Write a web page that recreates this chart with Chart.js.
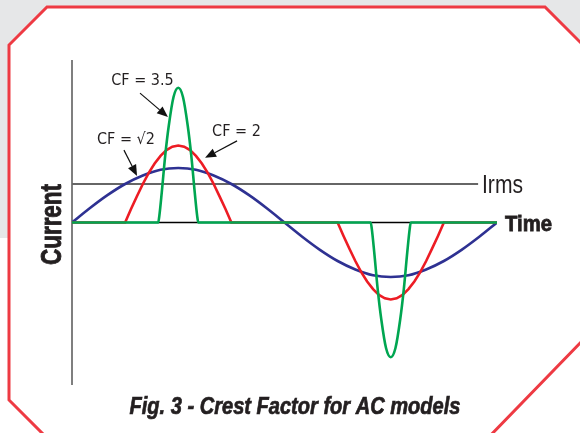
<!DOCTYPE html>
<html>
<head>
<meta charset="utf-8">
<script src="https://cdn.jsdelivr.net/npm/chart.js@4.4.0/dist/chart.umd.min.js"></script>
<style>
  body { margin: 0; background: #fff; }
  canvas { display: block; }
</style>
</head>
<body>
<canvas id="myChart" width="580" height="433"></canvas>
<script>
"use strict"

// time axis in degrees of one mains cycle, current in units of Irms
const sineX = [0, 15, 30, 45, 60, 75, 90, 105, 120, 135, 150, 165, 180, 195, 210, 225, 240, 255, 270, 285, 300, 315, 330, 345, 360];
const sineY = [0, 0.37, 0.71, 1.0, 1.22, 1.37, 1.415, 1.37, 1.22, 1.0, 0.71, 0.37, 0, -0.37, -0.71, -1.0, -1.22, -1.37, -1.415, -1.37, -1.22, -1.0, -0.71, -0.37, 0];

const redX = [0, 45, 50, 55, 60, 65, 70, 75, 80, 85, 90, 95, 100, 105, 110, 115, 120, 125, 130, 135,
    225, 230, 235, 240, 245, 250, 255, 260, 265, 270, 275, 280, 285, 290, 295, 300, 305, 310, 315, 360];
const redY = [0, 0, 0.35, 0.68, 1.0, 1.29, 1.53, 1.73, 1.88, 1.97, 2.0, 1.97, 1.88, 1.73, 1.53, 1.29, 1.0, 0.68, 0.35, 0,
    0, -0.35, -0.68, -1.0, -1.29, -1.53, -1.73, -1.88, -1.97, -2.0, -1.97, -1.88, -1.73, -1.53, -1.29, -1.0, -0.68, -0.35, 0, 0];

const greenX = [0, 73, 74, 76, 79, 82, 86, 90, 94, 98, 101, 104, 106, 107,
    253, 254, 256, 259, 262, 266, 270, 274, 278, 281, 284, 286, 287, 360];
const greenY = [0, 0, 0.18, 0.77, 1.75, 2.52, 3.26, 3.5, 3.26, 2.52, 1.75, 0.77, 0.18, 0,
    0, -0.18, -0.77, -1.75, -2.52, -3.26, -3.5, -3.26, -2.52, -1.75, -0.77, -0.18, 0, 0];

const irmsX = [0, 344];
const irmsY = [1, 1];

const xMax = 360;
const yLimit = 4.22;

function toPoints(xs, ys) {
    return xs.map((x, i) => ({ x: x, y: ys[i] }));
}

const narrow = '"Liberation Sans Narrow", "DejaVu Sans Condensed", "Liberation Sans", sans-serif';
const sans = '"Liberation Sans", Arial, sans-serif';

// squeeze text into a given width, the original uses a condensed face
function fitText(ctx, text, x, y, width, align, heavy) {
    const w = ctx.measureText(text).width;
    const sx = width / w;
    ctx.save();
    ctx.translate(x, y);
    ctx.scale(sx, 1);
    ctx.textAlign = "left";
    let start = 0;
    if (align === "center") start = -w / 2;
    ctx.fillText(text, start, 0);
    if (heavy) {
        ctx.lineWidth = heavy;
        ctx.strokeStyle = ctx.fillStyle;
        ctx.strokeText(text, start, 0);
    }
    ctx.restore();
}

function drawArrow(ctx, x1, y1, x2, y2) {
    const ang = Math.atan2(y2 - y1, x2 - x1);
    const len = 11, half = 4.5;
    const bx = x2 - len * Math.cos(ang), by = y2 - len * Math.sin(ang);
    ctx.beginPath();
    ctx.moveTo(x1, y1);
    ctx.lineTo(bx, by);
    ctx.lineWidth = 1.2;
    ctx.strokeStyle = "#111";
    ctx.stroke();
    ctx.beginPath();
    ctx.moveTo(x2, y2);
    ctx.lineTo(bx + half * Math.sin(ang), by - half * Math.cos(ang));
    ctx.lineTo(bx - half * Math.sin(ang), by + half * Math.cos(ang));
    ctx.closePath();
    ctx.fillStyle = "#111";
    ctx.fill();
}

const panelPlugin = {
    id: "panel",
    beforeDraw(chart) {
        const ctx = chart.ctx;
        ctx.save();
        ctx.fillStyle = "#fff";
        ctx.fillRect(0, 0, 580, 433);
        ctx.fillStyle = "#e6e7e8";
        ctx.fillRect(0, 0, 580, 238);
        ctx.beginPath();
        ctx.moveTo(47, 7);
        ctx.lineTo(545, 7);
        ctx.lineTo(586, 48);
        ctx.lineTo(586, 337);
        ctx.lineTo(486, 440);
        ctx.lineTo(49, 440);
        ctx.lineTo(9, 400);
        ctx.lineTo(9, 45);
        ctx.closePath();
        ctx.fillStyle = "#fff";
        ctx.fill();
        ctx.lineWidth = 3;
        ctx.strokeStyle = "#ee3a43";
        ctx.stroke();
        ctx.restore();
    },
    beforeDatasetsDraw(chart) {
        const ctx = chart.ctx;
        const a = chart.chartArea;
        const y0 = chart.scales.y.getPixelForValue(0);
        ctx.save();
        ctx.lineWidth = 1.5;
        ctx.strokeStyle = "#555";
        ctx.beginPath();
        ctx.moveTo(a.left, a.top);
        ctx.lineTo(a.left, a.bottom);
        ctx.stroke();
        ctx.strokeStyle = "#000";
        ctx.beginPath();
        ctx.moveTo(a.left, y0);
        ctx.lineTo(a.right, y0);
        ctx.stroke();
        ctx.restore();
    },
    afterDatasetsDraw(chart) {
        const ctx = chart.ctx;
        const xs = chart.scales.x, ys = chart.scales.y;
        const px = v => xs.getPixelForValue(v);
        const py = v => ys.getPixelForValue(v);
        ctx.save();
        ctx.fillStyle = "#231f20";
        ctx.textBaseline = "middle";

        ctx.font = "16px " + narrow;
        ctx.textAlign = "center";
        ctx.fillText("CF = 3.5", px(59.7), py(3.675));
        ctx.fillText("CF = \u221A2", px(45.7), py(2.14));
        ctx.fillText("CF = 2", px(139.3), py(2.35));

        drawArrow(ctx, px(57.6), py(3.36), px(81.3), py(2.74));
        drawArrow(ctx, px(44.0), py(1.88), px(55.1), py(1.21));
        drawArrow(ctx, px(139.8), py(2.12), px(112.7), py(1.68));

        ctx.fillStyle = "#231f20";
        ctx.textBaseline = "alphabetic";
        ctx.font = "25px " + sans;
        fitText(ctx, "Irms", px(347.3), py(1.0) + 9, 41, "left");
        ctx.font = "bold 22px " + sans;
        fitText(ctx, "Time", px(366.8), py(0) + 8, 47, "left", 0.8);

        ctx.save();
        ctx.translate(61, py(0) + 2);
        ctx.rotate(-Math.PI / 2);
        ctx.font = "bold 29px " + sans;
        fitText(ctx, "Current", 0, 0, 81, "center", 0.9);
        ctx.restore();

        ctx.font = "italic bold 23px " + sans;
        fitText(ctx, "Fig. 3 - Crest Factor for AC models", 295, 414, 331, "center", 0.7);
        ctx.restore();
    }
};

const lineStyle = {
    borderWidth: 2.6,
    pointRadius: 0,
    fill: false,
    showLine: true
};

const config = {
    type: "scatter",
    data: {
        datasets: [
            Object.assign({ label: "CF=3.5", data: toPoints(greenX, greenY), borderColor: "#00a651", cubicInterpolationMode: "monotone" }, lineStyle),
            Object.assign({ label: "CF=2", data: toPoints(redX, redY), borderColor: "#ed1c24", tension: 0 }, lineStyle),
            Object.assign({ label: "CF=sqrt2", data: toPoints(sineX, sineY), borderColor: "#2e3192", cubicInterpolationMode: "monotone" }, lineStyle),
            Object.assign({ label: "Irms", data: toPoints(irmsX, irmsY), borderColor: "#666", tension: 0 }, lineStyle, { borderWidth: 2 })
        ]
    },
    options: {
        responsive: false,
        animation: false,
        devicePixelRatio: 1,
        layout: { padding: { left: 72, right: 83, top: 60, bottom: 48 } },
        plugins: { legend: { display: false }, tooltip: { enabled: false } },
        scales: {
            x: { type: "linear", min: 0, max: xMax, display: false },
            y: { type: "linear", min: -yLimit, max: yLimit, display: false }
        }
    },
    plugins: [panelPlugin]
};

const productChart = new Chart(document.getElementById("myChart"), config);
</script>
</body>
</html>
